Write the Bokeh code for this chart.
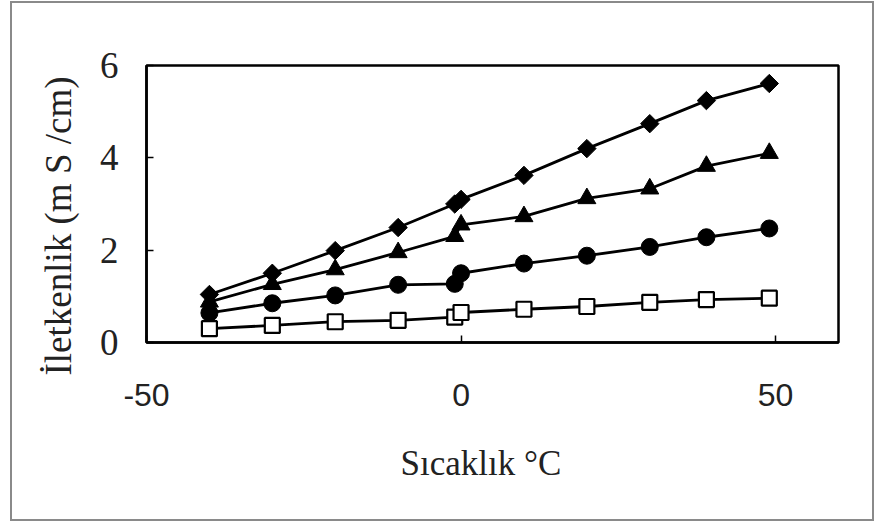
import numpy as np
from bokeh.plotting import figure
from bokeh.models import FixedTicker, Range1d, Title
from bokeh.embed import file_html
from bokeh.resources import INLINE

# Data
temperature = [-40, -30, -20, -10, -1, 0, 10, 20, 30, 39, 49]
series_diamond = [1.04, 1.50, 1.99, 2.49, 3.00, 3.10, 3.62, 4.20, 4.74, 5.24, 5.61]
series_triangle = [0.88, 1.26, 1.58, 1.95, 2.30, 2.55, 2.73, 3.12, 3.33, 3.82, 4.10]
series_circle = [0.64, 0.85, 1.02, 1.25, 1.27, 1.50, 1.71, 1.88, 2.07, 2.28, 2.47]
series_square = [0.30, 0.37, 0.45, 0.48, 0.55, 0.65, 0.72, 0.78, 0.87, 0.93, 0.96]

x_ticks = [-50, 0, 50]
x_tick_labels = ["-50", "0", "50"]
y_ticks = [0, 2, 4, 6]
x_label = "Sıcaklık °C"
y_label = "İletkenlik (m S /cm)"

SERIF = "Liberation Serif"
SANS = "Liberation Sans"

p = figure(width=864, height=520, output_backend="svg", toolbar_location=None,
           x_range=Range1d(-50, 60), y_range=Range1d(0, 6),
           min_border_left=134, min_border_top=62, min_border_right=38,
           min_border_bottom=181)
p.styles = {"border": "2px solid #8a8a8a", "margin-left": "10px", "margin-top": "1px"}
p.background_fill_color = "white"
p.border_fill_color = "white"
p.outline_line_color = "black"
p.outline_line_width = 2.5
p.xgrid.visible = False
p.ygrid.visible = False

for ax in (p.xaxis[0], p.yaxis[0]):
    ax.axis_line_width = 2.5
    ax.axis_line_color = "black"
    ax.major_tick_in = 7
    ax.major_tick_out = 0
    ax.major_tick_line_width = 1.5
    ax.minor_tick_line_color = None
    ax.major_label_text_color = "#222222"

p.xaxis.ticker = FixedTicker(ticks=x_ticks)
p.xaxis.major_label_overrides = {t: s for t, s in zip(x_ticks, x_tick_labels)}
p.yaxis.ticker = FixedTicker(ticks=y_ticks)

p.xaxis.major_label_text_font = SANS
p.xaxis.major_label_text_font_size = "32px"
p.xaxis.major_label_standoff = 41

p.yaxis.major_label_text_font = SERIF
p.yaxis.major_label_text_font_size = "37px"
p.yaxis.major_label_standoff = 28

# horizontal axis title, slightly left of the frame centre as in the reference
p.add_layout(Title(text=x_label, align="left", offset=254, vertical_align="top",
                   standoff=71, text_font=SERIF, text_font_size="35px",
                   text_font_style="normal", text_color="#222222"), "below")
# vertical axis title: starts a little below the frame bottom, as in the reference
p.add_layout(Title(text=y_label, align="left", offset=-33, vertical_align="bottom",
                   standoff=36, text_font=SERIF, text_font_size="37px",
                   text_font_style="normal", text_color="#222222"), "left")

LW = 2.8
# diamonds (rotated squares)
p.line(temperature, series_diamond, line_color="black", line_width=LW)
p.scatter(temperature, series_diamond, marker="square", size=13, angle=np.pi / 4,
          fill_color="black", line_color="black", line_width=1)
# triangles
p.line(temperature, series_triangle, line_color="black", line_width=LW)
p.scatter(temperature, series_triangle, marker="triangle", size=18,
          fill_color="black", line_color="black", line_width=1)
# circles
p.line(temperature, series_circle, line_color="black", line_width=LW)
p.scatter(temperature, series_circle, marker="circle", size=17,
          fill_color="black", line_color="black", line_width=1)
# open squares
p.line(temperature, series_square, line_color="black", line_width=LW)
p.scatter(temperature, series_square, marker="square", size=15,
          fill_color="white", line_color="black", line_width=2.2)

open("out.html", "w").write(file_html(p, INLINE))
